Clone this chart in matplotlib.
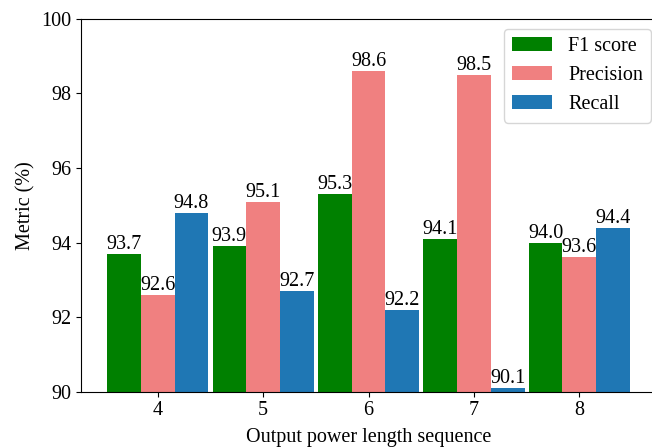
import numpy as np
import matplotlib
matplotlib.use("Agg")
import matplotlib.pyplot as plt

plt.rcParams['font.family'] = ['Liberation Serif', 'DejaVu Serif']
plt.rcParams['font.size'] = 14.5

lengths = [4, 5, 6, 7, 8]
f1 = [93.7, 93.9, 95.3, 94.1, 94.0]
precision = [92.6, 95.1, 98.6, 98.5, 93.6]
recall = [94.8, 92.7, 92.2, 90.1, 94.4]

w = 0.32
x = np.array(lengths)

fig = plt.figure(figsize=(6.52, 4.47), dpi=100)
ax = fig.add_axes([0.1242, 0.1237, 0.882, 0.834])

b1 = ax.bar(x - w, f1, w, color='green', label='F1 score')
b2 = ax.bar(x, precision, w, color='lightcoral', label='Precision')
b3 = ax.bar(x + w, recall, w, color='#1f77b4', label='Recall')
for b in (b1, b2, b3):
    ax.bar_label(b, fmt='%.1f', padding=0)

ax.set_ylim(90, 100)
ax.set_xticks(lengths)
ax.set_xlabel('Output power length sequence', labelpad=5.5)
ax.set_ylabel('Metric (%)')
ax.legend(loc='upper right', bbox_to_anchor=(1.0087, 1.0))

fig.savefig('out.png', dpi=100)
